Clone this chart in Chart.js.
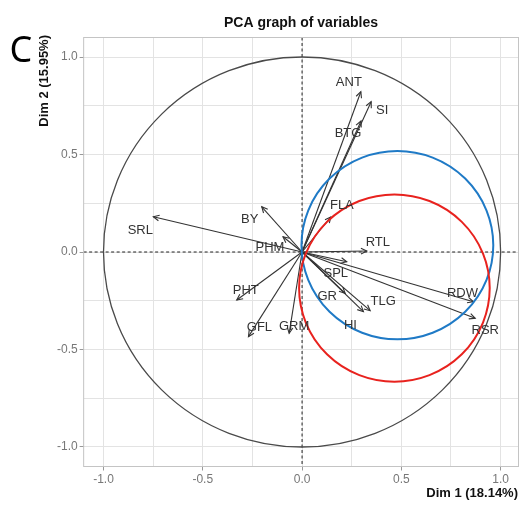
<!DOCTYPE html>
<html><head><meta charset="utf-8">
<script src="https://cdn.jsdelivr.net/npm/chart.js@4/dist/chart.umd.min.js"></script>
<style>html,body{margin:0;padding:0;background:#fff;overflow:hidden}#wrap{position:relative;width:519px;height:505px}</style>
</head><body><div id="wrap"><canvas id="c" width="519" height="505"></canvas></div>
<script>
// ---- data ----
const variables = ['ANT','SI','BTG','FLA','RTL','BY','SRL','PHM','PHT','GFL','GRM','SPL','GR','TLG','HI','RDW','RSR'];
const dim1 = [0.296, 0.348, 0.297, 0.145, 0.326, -0.203, -0.749, -0.096, -0.329, -0.270, -0.065, 0.225, 0.217, 0.343, 0.309, 0.863, 0.872];
const dim2 = [0.822, 0.771, 0.672, 0.180, 0.005, 0.232, 0.181, 0.078, -0.246, -0.434, -0.417, -0.050, -0.212, -0.301, -0.306, -0.255, -0.340];
const tickValues = [-1.0, -0.5, 0.0, 0.5, 1.0];
const minorTickValues = [-0.75, -0.25, 0.25, 0.75];
const circleCenterX = [0.480, 0.465];
const circleCenterY = [0.035, -0.185];
const circleRadius = [0.483, 0.480];
const titleText = 'PCA graph of variables';
const xTitle = 'Dim 1 (18.14%)';
const yTitle = 'Dim 2 (15.95%)';
const panelLetter = 'C';

// ---- layout / style (not data) ----
const labelOffset = {
  ANT:[-12,-9], SI:[11,9], BTG:[-13,12], FLA:[11,-11], RTL:[11,-9], BY:[-12,13], SRL:[-13,14],
  PHM:[-13,11], PHT:[9,-10], GFL:[11,-9], GRM:[5,-7], SPL:[-11,12], GR:[-18,3], TLG:[13,-9],
  HI:[-13,14], RDW:[-11,-8], RSR:[10,12]
};
const circleColors = ['#1f7ac6', '#e8221e'];
const arrowColor = '#333333';

const allTicks = tickValues.concat(minorTickValues).sort((a,b)=>a-b);
const isMajor = v => tickValues.some(t => Math.abs(t - v) < 1e-6);

const datasets = variables.map((name, i) => ({
  label: name,
  data: [{x:0, y:0}, {x:dim1[i], y:dim2[i]}],
  showLine: true,
  borderColor: arrowColor,
  borderWidth: 1.1,
  pointRadius: 0,
  pointHoverRadius: 0,
  fill: false
}));

const decorPlugin = {
  id: 'decor',
  beforeDatasetsDraw(chart) {
    const {ctx, chartArea:a, scales:{x, y}} = chart;
    ctx.save();
    ctx.beginPath(); ctx.rect(a.left, a.top, a.right - a.left, a.bottom - a.top); ctx.clip();
    ctx.strokeStyle = '#222'; ctx.lineWidth = 1; ctx.setLineDash([3, 2.5]);
    const x0 = x.getPixelForValue(0), y0 = y.getPixelForValue(0);
    ctx.beginPath(); ctx.moveTo(a.left, y0); ctx.lineTo(a.right, y0); ctx.stroke();
    ctx.beginPath(); ctx.moveTo(x0, a.top); ctx.lineTo(x0, a.bottom); ctx.stroke();
    ctx.setLineDash([]);
    ctx.strokeStyle = '#4a4a4a'; ctx.lineWidth = 1.3;
    ctx.beginPath();
    ctx.ellipse(x0, y0, x.getPixelForValue(1) - x0, y0 - y.getPixelForValue(1), 0, 0, Math.PI * 2);
    ctx.stroke();
    ctx.restore();
  },
  afterDatasetsDraw(chart) {
    const {ctx, chartArea:a, scales:{x, y}} = chart;
    ctx.save();
    ctx.strokeStyle = arrowColor; ctx.lineWidth = 1.1;
    chart.data.datasets.forEach((ds, i) => {
      const meta = chart.getDatasetMeta(i);
      const p0 = meta.data[0], p1 = meta.data[1];
      const ang = Math.atan2(p1.y - p0.y, p1.x - p0.x);
      const L = 6.5, h = Math.PI / 7;
      ctx.beginPath();
      ctx.moveTo(p1.x - L * Math.cos(ang - h), p1.y - L * Math.sin(ang - h));
      ctx.lineTo(p1.x, p1.y);
      ctx.lineTo(p1.x - L * Math.cos(ang + h), p1.y - L * Math.sin(ang + h));
      ctx.stroke();
    });
    ctx.lineWidth = 2;
    circleRadius.forEach((r, i) => {
      const cx = x.getPixelForValue(circleCenterX[i]);
      const cy = y.getPixelForValue(circleCenterY[i]);
      const rx = x.getPixelForValue(circleCenterX[i] + r) - cx;
      const ry = cy - y.getPixelForValue(circleCenterY[i] + r);
      ctx.strokeStyle = circleColors[i];
      ctx.beginPath(); ctx.ellipse(cx, cy, rx, ry, 0, 0, Math.PI * 2); ctx.stroke();
    });
    ctx.fillStyle = '#333';
    ctx.font = '13px "Liberation Sans", Arial, sans-serif';
    ctx.textAlign = 'center'; ctx.textBaseline = 'middle';
    chart.data.datasets.forEach((ds, i) => {
      const p1 = chart.getDatasetMeta(i).data[1];
      const off = labelOffset[ds.label] || [0, 0];
      ctx.fillText(ds.label, p1.x + off[0], p1.y + off[1]);
    });
    ctx.restore();
  },
  afterDraw(chart) {
    const {ctx, chartArea:a} = chart;
    ctx.save();
    ctx.strokeStyle = '#c4c4c4'; ctx.lineWidth = 1;
    ctx.strokeRect(a.left, a.top, a.right - a.left, a.bottom - a.top);
    ctx.fillStyle = '#111';
    ctx.font = 'bold 14px "Liberation Sans", Arial, sans-serif';
    ctx.textAlign = 'center'; ctx.textBaseline = 'middle';
    ctx.fillText(titleText, 301, 23);
    ctx.font = 'bold 13px "Liberation Sans", Arial, sans-serif';
    ctx.textAlign = 'right';
    ctx.fillText(xTitle, 518, 493);
    ctx.save();
    ctx.translate(44, 35); ctx.rotate(-Math.PI / 2);
    ctx.textAlign = 'right';
    ctx.fillText(yTitle, 0, 0);
    ctx.restore();
    ctx.font = '36px "Noto Sans", "Liberation Sans", sans-serif';
    ctx.textAlign = 'center';
    ctx.fillStyle = '#000';
    ctx.fillText(panelLetter, 21, 52);
    ctx.restore();
  }
};

const axisCommon = (minV, maxV) => ({
  type: 'linear', min: minV, max: maxV,
  afterBuildTicks: s => { s.ticks = allTicks.map(v => ({value: v})); },
  ticks: {
    autoSkip: false, maxRotation: 0, padding: 2,
    color: '#777', font: {size: 12, family: '"Liberation Sans", Arial, sans-serif'},
    callback: v => isMajor(v) ? v.toFixed(1) : ''
  },
  grid: {
    color: '#e3e3e3', lineWidth: 1, drawTicks: true, tickLength: 4,
    tickColor: c => (c.tick && isMajor(c.tick.value)) ? '#999' : 'rgba(0,0,0,0)'
  },
  border: {display: false}
});

const xAxis = axisCommon(-1.1, 1.09);
xAxis.afterFit = s => { s.height = 38.5; };
const yAxis = axisCommon(-1.1, 1.1);
yAxis.afterFit = s => { s.width = 83.65; };

new Chart(document.getElementById('c'), {
  type: 'scatter',
  data: {datasets},
  options: {
    responsive: false, animation: false, devicePixelRatio: 1,
    layout: {padding: {top: 37.5, left: 0, right: 0.5, bottom: 0}},
    plugins: {legend: {display: false}, tooltip: {enabled: false}, title: {display: false}},
    scales: {x: xAxis, y: yAxis}
  },
  plugins: [decorPlugin]
});
</script></body></html>
